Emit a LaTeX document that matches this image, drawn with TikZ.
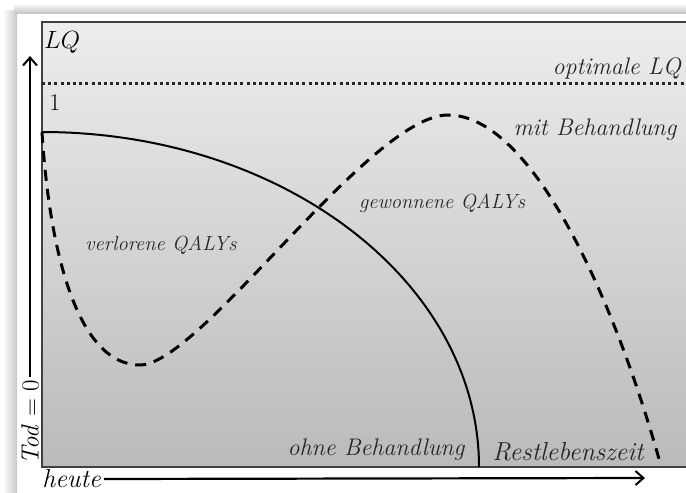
\documentclass[tikz,border=0pt]{standalone}
\usetikzlibrary{arrows.meta}

\begin{document}
\begin{tikzpicture}[x=1pt, y=-1pt,
  lbl/.style={font=\fontsize{#1}{#1}\selectfont\itshape, text=black!85, inner sep=0pt},
  lbl/.default=21,
  axis/.style={line width=2.2pt, -{Straight Barb[length=8pt, width=14pt, line width=2pt]}},
  treat/.style={line width=3pt, dash pattern=on 11pt off 8pt},
  notreat/.style={line width=2pt},
  optline/.style={line width=3pt, black!85, dash pattern=on 3pt off 3.2pt}]
  \useasboundingbox (0,0) rectangle (686,493);
  % card with shadow
  \fill[white] (0,0) rectangle (686,493);
  \shade[left color=white, right color=black!22] (3,10) rectangle (17,493);
  \shade[top color=white, bottom color=black!22] (14,3) rectangle (686,13);
  % plot area
  \shade[top color=black!7, bottom color=black!27] (42,22) rectangle (690,467);
  \draw[black!75, line width=1.6pt] (690,22) -- (42,22) -- (42,467) -- (690,467);
  \coordinate (S) at (42,132);
  \coordinate (E) at (479,467);
  \coordinate (Lmin) at (140,365);
  \coordinate (Gmax) at (448,115);
  \coordinate (T) at (661,466);
  \coordinate (ytop) at (30,56);
  \coordinate (xend) at (645,478);
  \draw[optline] (42,83) -- (690,83);
  \draw[notreat] (S) .. controls (283,132) and (479,282) .. (E);
  \draw[treat] (S) .. controls (50,260) and (80,365) .. (Lmin)
    .. controls (200,365) and (370,115) .. (Gmax)
    .. controls (530,115) and (612,290) .. (T);
  \node[lbl=25, text=black, anchor=west] (lq) at (44,42) {$LQ$};
  \node[lbl=24, text=black, font=\fontsize{24}{24}\selectfont] (one) at (55,103) {1};
  \node[lbl=24, anchor=east] (opt) at (681,68) {optimale LQ};
  \node[lbl=24] (mit) at (595,130) {mit Behandlung};
  \node[lbl=20.5] (gew) at (442,203) {gewonnene QALYs};
  \node[lbl=20.5] (verl) at (161,245) {verlorene QALYs};
  \node[lbl=24] (ohne) at (376,450) {ohne Behandlung};
  \node[lbl=26] (rest) at (568,452) {Restlebenszeit};
  \node[lbl=26, text=black, anchor=east] (heute) at (101,479) {heute};
  \node[lbl=23, text=black, rotate=90, anchor=west] (tod) at (30,465) {$\mathit{Tod}=0$};
  \draw[axis] ([yshift=3pt]tod.east) -- (ytop);
  \draw[axis] ([xshift=3pt]heute.east) -- (xend);
\end{tikzpicture}
\end{document}
